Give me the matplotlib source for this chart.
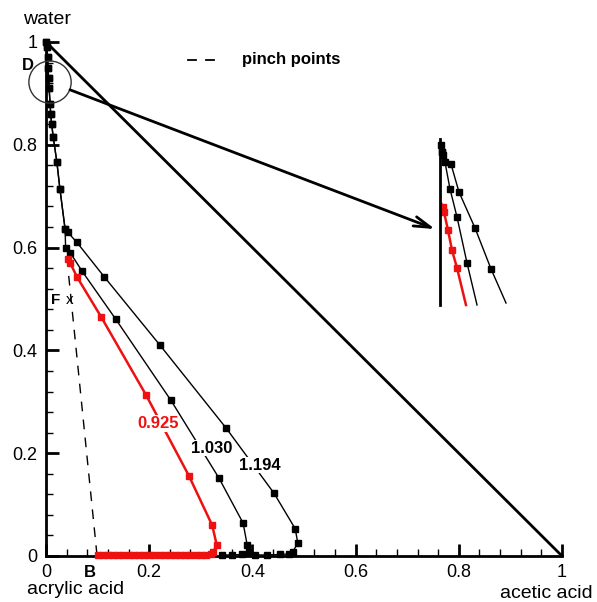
import matplotlib
matplotlib.use("Agg")
import matplotlib.pyplot as plt
from matplotlib.patches import Ellipse
from matplotlib.ticker import MultipleLocator

plt.rcParams['font.family'] = ['Liberation Sans', 'DejaVu Sans']

# ---------------- data (mole fractions: x = acetic acid, y = water) ----------------
top_x = [0.0, 0.002, 0.003, 0.004, 0.005, 0.006, 0.008, 0.009, 0.011, 0.014, 0.021, 0.027, 0.037]
top_y = [1.0, 0.99, 0.97, 0.95, 0.93, 0.91, 0.88, 0.86, 0.84, 0.815, 0.767, 0.714, 0.636]

red_x = [0.043, 0.047, 0.060, 0.107, 0.194, 0.277, 0.322, 0.331, 0.324,
         0.32, 0.31, 0.30, 0.29, 0.28, 0.27, 0.26, 0.25, 0.24, 0.23, 0.22, 0.21,
         0.20, 0.19, 0.18, 0.17, 0.16, 0.15, 0.14, 0.13, 0.12, 0.11, 0.10]
red_y = [0.578, 0.570, 0.543, 0.465, 0.313, 0.156, 0.060, 0.021, 0.008,
         0.003, 0.002, 0.002, 0.002, 0.002, 0.002, 0.002, 0.002, 0.002, 0.002, 0.002, 0.002,
         0.002, 0.002, 0.002, 0.002, 0.002, 0.002, 0.002, 0.002, 0.002, 0.002, 0.002]

mid_x = [0.038, 0.047, 0.070, 0.135, 0.242, 0.335, 0.382, 0.390, 0.393, 0.380, 0.360, 0.341]
mid_y = [0.600, 0.590, 0.554, 0.461, 0.303, 0.152, 0.064, 0.021, 0.008, 0.003, 0.002, 0.002]

right_x = [0.042, 0.060, 0.113, 0.221, 0.349, 0.442, 0.483, 0.488, 0.478, 0.471, 0.453, 0.428, 0.405]
right_y = [0.630, 0.610, 0.543, 0.410, 0.249, 0.122, 0.053, 0.025, 0.008, 0.004, 0.003, 0.002, 0.002]

pinch_x = [0.044, 0.099]
pinch_y = [0.545, 0.0]

labels = ["0.925", "1.030", "1.194"]
ticks = [0, 0.2, 0.4, 0.6, 0.8, 1]
tick_labels = ["0", "0.2", "0.4", "0.6", "0.8", "1"]

# inset (magnified region near water vertex), local units
in_top_x = [0.014, 0.029]
in_top_y = [0.964, 0.920]
in_mid_x = [0.029, 0.071, 0.143, 0.243, 0.386, 0.529]
in_mid_y = [0.920, 0.861, 0.699, 0.530, 0.253, 0.0]
in_right_x = [0.014, 0.043, 0.157, 0.271, 0.500, 0.729, 0.943]
in_right_y = [0.964, 0.904, 0.849, 0.681, 0.464, 0.217, 0.012]
in_red_x = [0.020, 0.043, 0.057, 0.114, 0.171, 0.243, 0.371]
in_red_y = [0.610, 0.590, 0.560, 0.452, 0.331, 0.223, 0.0]

# ---------------- figure ----------------
fig = plt.figure(figsize=(5.97, 6.02), dpi=100)
ax = fig.add_axes([46/597, 46/602, 516/597, 514/602])
ax.set_xlim(0, 1)
ax.set_ylim(0, 1)
for s in ['top', 'right']:
    ax.spines[s].set_visible(False)
for s in ['left', 'bottom']:
    ax.spines[s].set_linewidth(2)

ax.xaxis.set_major_locator(MultipleLocator(0.2))
ax.yaxis.set_major_locator(MultipleLocator(0.2))
ax.set_xticks(ticks, tick_labels)
ax.set_yticks(ticks, tick_labels)
ax.xaxis.set_minor_locator(MultipleLocator(0.04))
ax.yaxis.set_minor_locator(MultipleLocator(0.04))
ax.tick_params(which='major', direction='in', length=9, width=2, color='black',
               labelsize=13, pad=6)
ax.tick_params(which='minor', direction='in', length=5, width=1, color='black')

# triangle hypotenuse
ax.plot([0, 1], [1, 0], color='black', lw=2, clip_on=False, zorder=3)

ms = 4.5
# black curves
ax.plot(top_x + right_x, top_y + right_y, color='black', lw=1, marker='s', ms=ms,
        clip_on=False, zorder=4)
ax.plot(top_x + mid_x, top_y + mid_y, color='black', lw=1, marker='s', ms=ms,
        clip_on=False, zorder=4)
# red curve
ax.plot(red_x, red_y, color='#ee1111', lw=1.8, marker='s', ms=ms, clip_on=False, zorder=5)

# pinch points dashed
ax.plot(pinch_x, pinch_y, color='black', lw=1, ls=(0, (7, 6)), zorder=3)

# curve labels
ax.text(0.217, 0.258, labels[0], color='#ee1111', fontsize=12, fontweight='bold',
        ha='center', va='center', zorder=6,
        bbox=dict(fc='white', ec='none', pad=0.5))
ax.text(0.322, 0.210, labels[1], color='black', fontsize=12, fontweight='bold',
        ha='center', va='center', zorder=6,
        bbox=dict(fc='white', ec='none', pad=0.5))
ax.text(0.415, 0.177, labels[2], color='black', fontsize=12, fontweight='bold',
        ha='center', va='center', zorder=6,
        bbox=dict(fc='white', ec='none', pad=0.5))

# point labels
ax.text(-0.035, 0.955, "D", fontsize=12, fontweight='bold', ha='center', va='center')
ax.text(0.019, 0.498, "F", fontsize=11, fontweight='bold', ha='center', va='center')
ax.text(0.045, 0.498, "x", fontsize=11, ha='center', va='center')
ax.text(0.085, -0.032, "B", fontsize=12, fontweight='bold', ha='center', va='center')

# legend-like text
ax.plot([0.275, 0.29], [0.965, 0.965], color='black', lw=1.3, clip_on=False)
ax.plot([0.31, 0.325], [0.965, 0.965], color='black', lw=1.3, clip_on=False)
ax.text(0.38, 0.966, "pinch points", fontsize=12, fontweight='bold', ha='left', va='center')

# vertex labels
fig.text(47/597, 1 - 20/602, "water", fontsize=14, ha='center', va='center')
fig.text(76/597, 1 - 590/602, "acrylic acid", fontsize=14, ha='center', va='center')
fig.text(546/597, 1 - 594/602, "acetic acid", fontsize=14, ha='center', va='center')

# zoom circle and arrow
ax.add_patch(Ellipse((0.0078, 0.922), 0.082, 0.082, fill=False, ec='#333333', lw=1,
                     clip_on=False, zorder=6))
ax.annotate("", xy=(0.754, 0.636), xytext=(0.0465, 0.907),
            arrowprops=dict(arrowstyle='->,head_length=1.2,head_width=0.35',
                            color='black', lw=2, shrinkA=0, shrinkB=0), zorder=6)

# inset
axi = fig.add_axes([440/597, 1 - 305/602, 70/597, 166/602])
axi.set_xlim(0, 1)
axi.set_ylim(0, 1)
axi.patch.set_alpha(0)
for s in ['top', 'right', 'bottom']:
    axi.spines[s].set_visible(False)
axi.spines['left'].set_linewidth(2)
axi.tick_params(left=False, bottom=False, labelleft=False, labelbottom=False)
axi.plot(in_top_x, in_top_y, color='black', lw=1, marker='s', ms=4, clip_on=False)
axi.plot(in_mid_x, in_mid_y, color='black', lw=1, marker='s', ms=4,
         markevery=list(range(len(in_mid_x) - 1)), clip_on=False)
axi.plot(in_right_x, in_right_y, color='black', lw=1, marker='s', ms=4,
         markevery=list(range(1, len(in_right_x) - 1)), clip_on=False)
axi.plot(in_red_x, in_red_y, color='#ee1111', lw=1.8, marker='s', ms=4,
         markevery=list(range(1, len(in_red_x) - 1)), clip_on=False)

fig.savefig("out.png", dpi=100)
